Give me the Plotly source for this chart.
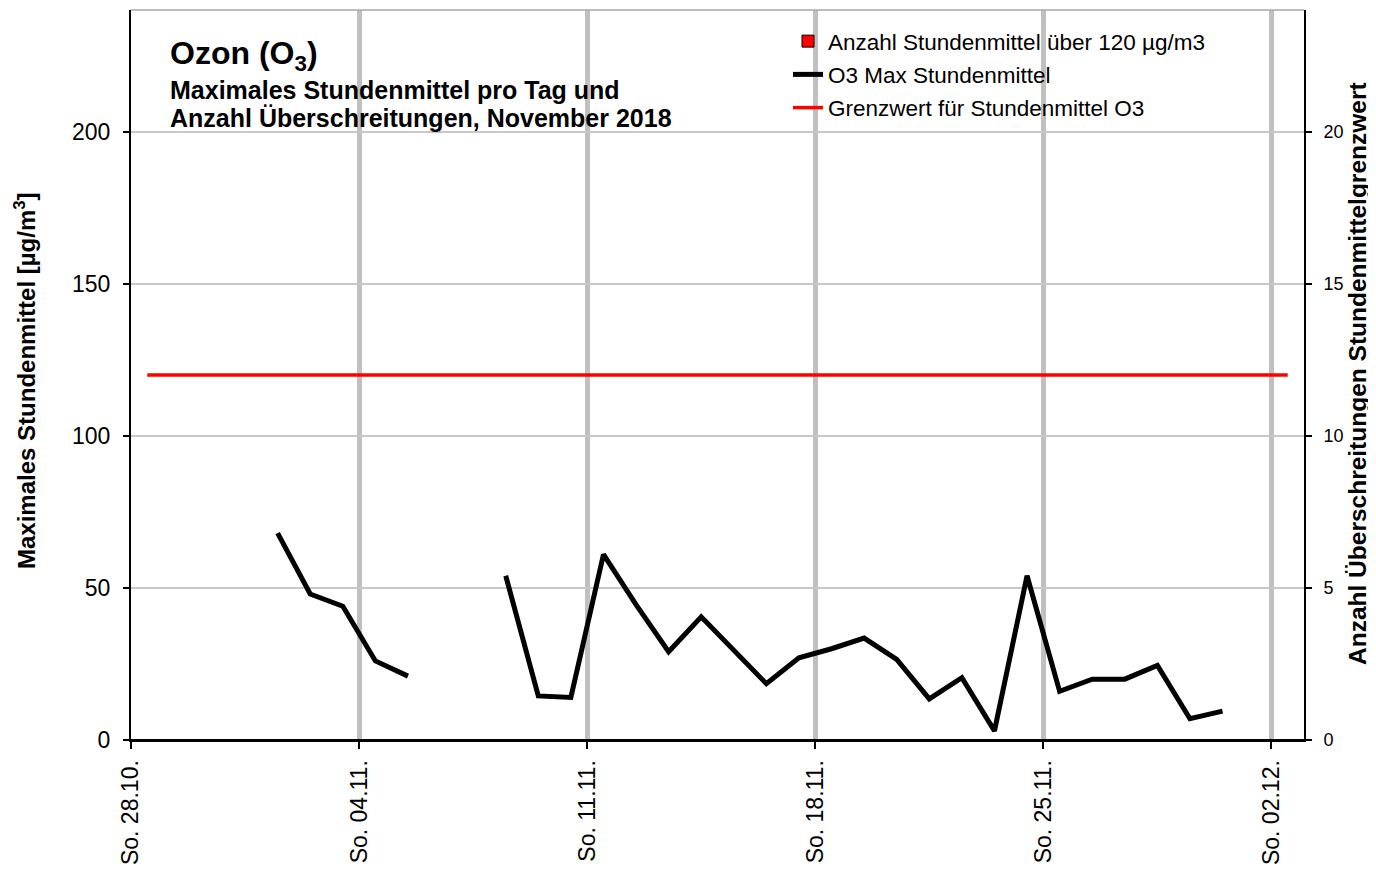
import pandas as pd
import plotly.graph_objects as go

# ---------------- data ----------------
days = pd.date_range("2018-10-28", "2018-12-02", freq="D")
o3_days = pd.date_range("2018-11-01", "2018-11-30", freq="D")
o3_max = [68, 48, 44, 26, 21, None, None, 54, 14.5, 14, 61, 44.5, 29, 40.5, 29.5,
          18.5, 27, 30, 33.5, 26.5, 13.5, 20.5, 3, 54, 16, 20, 20, 24.5, 7, 9.5]
anzahl_ueber = [0] * len(o3_days)
grenzwert = 120
sunday_ticks = pd.date_range("2018-10-28", "2018-12-02", freq="7D")
tick_labels = ["So. 28.10.", "So. 04.11.", "So. 11.11.", "So. 18.11.", "So. 25.11.", "So. 02.12."]

left_ticks = [0, 50, 100, 150, 200]
right_ticks = [0, 5, 10, 15, 20]

title_line1 = "Ozon (O<sub>3</sub>)"
title_line2 = "Maximales Stundenmittel pro Tag und"
title_line3 = "Anzahl Überschreitungen, November 2018"
ylabel_left = "Maximales Stundenmittel [µg/m<sup>3</sup>]"
ylabel_right = "Anzahl Überschreitungen Stundenmittelgrenzwert"

# ---------------- figure ----------------
FONT = "Arial, Liberation Sans, sans-serif"
half_day = pd.Timedelta(hours=12)

fig = go.Figure()

fig.add_trace(go.Bar(
    x=o3_days + half_day, y=anzahl_ueber, yaxis="y2",
    name="Anzahl Stundenmittel über 120 µg/m3",
    marker=dict(color="#ff0000", line=dict(color="black", width=1)),
    legendgroup="a",
))
fig.add_trace(go.Scatter(
    x=o3_days + half_day, y=o3_max, mode="lines",
    name="O3 Max Stundenmittel",
    line=dict(color="black", width=5), connectgaps=False,
    legendgroup="b",
))
fig.add_trace(go.Scatter(
    x=days + half_day, y=[grenzwert] * len(days), mode="lines",
    name="Grenzwert für Stundenmittel O3",
    line=dict(color="#ff0000", width=3.5),
    legendgroup="c",
))

# page is offset by the 8px body margin
W, H = 1376, 871
PL, PR, PT, PB = 131, 1304, 10, 740          # plot box in page pixels
OFF = 8
L, T = PL - OFF, PT - OFF
R, B = W - (PR - OFF), H - (PB - OFF)
pw, ph = PR - PL, PB - PT


def px_x(x):
    return (x - PL) / pw


def px_y(y):
    return (PB - y) / ph


shapes = [
    # white boxes behind title and legend (above grid, below data)
    dict(type="rect", xref="paper", yref="paper", layer="between",
         x0=px_x(163), x1=px_x(773), y0=px_y(152), y1=px_y(15),
         fillcolor="white", line=dict(width=0)),
    dict(type="rect", xref="paper", yref="paper", layer="between",
         x0=px_x(773), x1=px_x(1264), y0=px_y(127), y1=px_y(15),
         fillcolor="white", line=dict(width=0)),
    # top frame line
    dict(type="line", xref="paper", yref="paper", x0=0, x1=1, y0=1, y1=1,
         line=dict(color="#a8a8a8", width=1.5)),
    # bottom axis line redrawn above the zero-height bars
    dict(type="line", xref="paper", yref="paper", x0=0, x1=1, y0=0, y1=0,
         layer="above", line=dict(color="black", width=2)),
]

annotations = [
    dict(text="<b>" + title_line1 + "</b>", xref="paper", yref="paper",
         x=px_x(168), y=px_y(56), xanchor="left", yanchor="middle",
         showarrow=False, font=dict(family=FONT, size=32, color="black")),
    dict(text="<b>" + title_line2 + "</b>", xref="paper", yref="paper",
         x=px_x(168), y=px_y(90), xanchor="left", yanchor="middle",
         showarrow=False, font=dict(family=FONT, size=25, color="black")),
    dict(text="<b>" + title_line3 + "</b>", xref="paper", yref="paper",
         x=px_x(168), y=px_y(118), xanchor="left", yanchor="middle",
         showarrow=False, font=dict(family=FONT, size=25, color="black")),
    dict(text="<b>" + ylabel_left + "</b>", xref="paper", yref="paper",
         x=px_x(25), y=px_y(381), xanchor="center", yanchor="middle", textangle=-90,
         showarrow=False, font=dict(family=FONT, size=24, color="black")),
    dict(text="<b>" + ylabel_right + "</b>", xref="paper", yref="paper",
         x=px_x(1358), y=px_y(374), xanchor="center", yanchor="middle", textangle=-90,
         showarrow=False, font=dict(family=FONT, size=24.5, color="black")),
]

fig.update_layout(
    width=W, height=H,
    margin=dict(l=L, r=R, t=T, b=B, pad=0),
    paper_bgcolor="white", plot_bgcolor="white",
    font=dict(family=FONT, color="black"),
    showlegend=True,
    legend=dict(
        x=px_x(788), y=px_y(20), xanchor="left", yanchor="top",
        bgcolor="rgba(0,0,0,0)", font=dict(family=FONT, size=22.5, color="black"),
        traceorder="grouped", tracegroupgap=1, itemwidth=30,
    ),
    xaxis=dict(
        type="date",
        range=[pd.Timestamp("2018-10-28"), pd.Timestamp("2018-12-03")],
        tickmode="array", tickvals=sunday_ticks, ticktext=tick_labels,
        tickangle=-90, tickfont=dict(family=FONT, size=23, color="black"),
        ticks="outside", ticklen=7, tickwidth=1.5, tickcolor="black",
        ticklabelstandoff=2,
        showgrid=True, gridcolor="#c0c0c0", gridwidth=5,
        showline=True, linecolor="black", linewidth=2,
        zeroline=False,
    ),
    yaxis=dict(
        range=[0, 240], tickmode="array", tickvals=left_ticks,
        tickfont=dict(family=FONT, size=23, color="black"),
        ticks="outside", ticklen=6, tickwidth=1.5, tickcolor="black",
        ticklabelstandoff=8,
        showgrid=True, gridcolor="#c8c8c8", gridwidth=1.5,
        showline=True, linecolor="black", linewidth=2,
        zeroline=False,
    ),
    yaxis2=dict(
        overlaying="y", side="right", anchor="x",
        range=[0, 24], tickmode="array", tickvals=right_ticks,
        tickfont=dict(family=FONT, size=18, color="black"),
        ticks="outside", ticklen=6, tickwidth=1.5, tickcolor="black",
        ticklabelstandoff=8,
        showgrid=False, showline=True, linecolor="black", linewidth=2,
        zeroline=False,
    ),
    bargap=0.3,
    shapes=shapes,
    annotations=annotations,
)

fig.write_html("out.html")
